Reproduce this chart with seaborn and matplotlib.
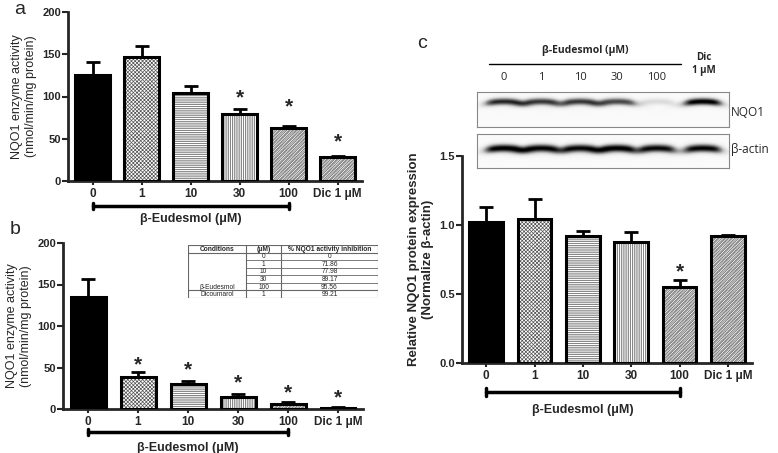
import numpy as np
import matplotlib
matplotlib.use('Agg')
import matplotlib.pyplot as plt
import seaborn as sns
from matplotlib.patches import Rectangle
from matplotlib.lines import Line2D
import matplotlib.transforms as mtransforms

sns.set_style('ticks')
plt.rcParams['font.family'] = ['Liberation Sans', 'DejaVu Sans']
plt.rcParams['hatch.linewidth'] = 0.5

# ---- data ----
doses = ['0', '1', '10', '30', '100', 'Dic 1 \u03bcM']

act_a_mean = [126, 147, 104, 79, 63, 28]
act_a_err = [15, 13, 9, 6, 2, 2]
star_a = [None, None, None, 98, 88, 46]

act_b_mean = [135, 38, 30, 15, 6, 1]
act_b_err = [22, 7, 4, 3, 3, 1]
star_b = [None, 53, 47, 31, 19, 13]

expr_c_mean = [1.02, 1.04, 0.92, 0.88, 0.55, 0.92]
expr_c_err = [0.11, 0.15, 0.04, 0.07, 0.05, 0.01]
star_c = [None, None, None, None, 0.66, None]

table_conc = ['0', '1', '10', '30', '100', '1']
table_inhib = ['0', '71.86', '77.98', '89.17', '95.56', '99.21']

lane_labels = ['0', '1', '10', '30', '100']
nqo1_band = [0.85, 0.80, 0.80, 0.75, 0.20, 1.0]
actin_band = [1.0, 0.97, 0.95, 1.0, 0.95, 0.97]

# ---- styling ----
hatches = ['', 'xxxxxxxxx', '---------', '|||||||||',
           'xxxxxxxxxx\\\\\\\\\\\\', 'xxxxxxxxxx\\\\\\\\\\\\']
faces = ['black', 'white', 'white', 'white', 'white', 'white']
hatch_cols = ['#555555', '#555555', '#555555', '#555555', '#8a8a8a', '#8a8a8a']

fig = plt.figure(figsize=(7.78, 4.53), dpi=100)

def px_axes(l, t, r, b):
    W, H = 778, 453
    return fig.add_axes([l / W, 1 - b / H, (r - l) / W, (b - t) / H])


def bar_panel(ax, means, errs, stars, ymax, yticks, ylabel, label_bold,
              bracket_y, label_y):
    sns.barplot(x=doses, y=means, ax=ax, width=0.7, color='white',
                edgecolor='#555555', linewidth=0, errorbar=None, zorder=2)
    for p, h, fc, hc in zip(ax.patches, hatches, faces, hatch_cols):
        p.set_hatch(h)
        p.set_facecolor(fc)
        p.set_edgecolor(hc)
        ax.add_patch(Rectangle(p.get_xy(), p.get_width(), p.get_height(),
                               fill=False, edgecolor='black', linewidth=2.2,
                               zorder=3))
    x = np.arange(len(means))
    ax.errorbar(x, means, yerr=[np.zeros(len(errs)), errs], fmt='none',
                ecolor='black', elinewidth=2, capsize=5, capthick=2, zorder=1)
    for xi, s in zip(x, stars):
        if s is not None:
            ax.text(xi, s, '*', ha='center', va='center', fontsize=15,
                    fontweight='bold')
    ax.set_xlim(-0.5, len(means) - 0.5)
    ax.set_ylim(0, ymax)
    ax.set_yticks(yticks)
    ax.spines['top'].set_visible(False)
    ax.spines['right'].set_visible(False)
    for sp in ['left', 'bottom']:
        ax.spines[sp].set_linewidth(2)
    ax.spines['left'].set_bounds(0, ymax)
    ax.tick_params(axis='y', length=4, width=1.5, labelsize=8, pad=1)
    ax.tick_params(axis='x', length=3, width=1.5, labelsize=8.5, pad=2)
    for t in ax.get_xticklabels() + ax.get_yticklabels():
        t.set_fontweight('bold')
    ax.set_ylabel(ylabel, fontsize=9, fontweight='bold' if label_bold else 'normal',
                  labelpad=4)
    ax.set_xlabel('')
    tr = mtransforms.blended_transform_factory(ax.transData, ax.transAxes)
    ax.add_line(Line2D([0, 4], [bracket_y, bracket_y], transform=tr, color='black',
                       linewidth=2.5, clip_on=False))
    for xe in [0, 4]:
        ax.add_line(Line2D([xe, xe], [bracket_y - 0.02, bracket_y + 0.02],
                           transform=tr, color='black', linewidth=2.5,
                           clip_on=False))
    ax.text(2, label_y, '\u03b2-Eudesmol (\u03bcM)', transform=tr, ha='center',
            va='center', fontsize=9, fontweight='bold')


# panel a
ax_a = px_axes(68, 12, 362, 181)
bar_panel(ax_a, act_a_mean, act_a_err, star_a, 200, [0, 50, 100, 150, 200],
          'NQO1 enzyme activity\n(nmol/min/mg protein)', False, -0.148, -0.222)
fig.text(20 / 778, 1 - 10 / 453, 'a', fontsize=14, ha='center', va='center')

# panel b
ax_b = px_axes(63, 243, 363, 409)
bar_panel(ax_b, act_b_mean, act_b_err, star_b, 200, [0, 50, 100, 150, 200],
          'NQO1 enzyme activity\n(nmol/min/mg protein)', False, -0.139, -0.232)
fig.text(15 / 778, 1 - 229 / 453, 'b', fontsize=14, ha='center', va='center')

# table inside b
tab = px_axes(188, 245, 378, 298)
tab.set_xlim(0, 190)
tab.set_ylim(7, 0)
tab.axis('off')
lc = '#666666'
tab.add_patch(Rectangle((0, 0), 190, 7, fill=False, edgecolor=lc, linewidth=0.8))
for xv in [58, 93]:
    tab.plot([xv, xv], [0, 7], color=lc, linewidth=0.8)
tab.plot([0, 190], [1, 1], color=lc, linewidth=0.8)
tab.plot([0, 190], [6, 6], color=lc, linewidth=0.8)
for yv in [2, 3, 4, 5]:
    tab.plot([58, 190], [yv, yv], color=lc, linewidth=0.6)
tfs = 4.8
tab.text(29, 0.55, 'Conditions', ha='center', va='center', fontsize=tfs, fontweight='bold')
tab.text(75.5, 0.55, '(\u03bcM)', ha='center', va='center', fontsize=tfs, fontweight='bold')
tab.text(141.5, 0.55, '% NQO1 activity inhibition', ha='center', va='center',
         fontsize=tfs, fontweight='bold')
for i, (c, v) in enumerate(zip(table_conc, table_inhib)):
    tab.text(75.5, i + 1.55, c, ha='center', va='center', fontsize=tfs)
    tab.text(141.5, i + 1.55, v, ha='center', va='center', fontsize=tfs)
tab.text(29, 5.55, '\u03b2-Eudesmol', ha='center', va='center', fontsize=tfs)
tab.text(29, 6.55, 'Dicoumarol', ha='center', va='center', fontsize=tfs)

# panel c bars
ax_c = px_axes(462, 156, 752, 363)
bar_panel(ax_c, expr_c_mean, expr_c_err, star_c, 1.5, [0.0, 0.5, 1.0, 1.5],
          'Relative NQO1 protein expression\n(Normalize \u03b2-actin)', True,
          -0.14, -0.227)
ax_c.set_yticklabels(['0.0', '0.5', '1.0', '1.5'])
for t in ax_c.get_yticklabels():
    t.set_fontweight('bold')
ax_c.yaxis.label.set_fontsize(9.5)
fig.text(422 / 778, 1 - 44 / 453, 'c', fontsize=14, ha='center', va='center')

# western blot
lane_x = [27, 64, 103, 140, 180, 226]
xs = np.linspace(0, 252, 504)


def blot(ax, levels, y0, sy, h):
    ys = np.linspace(0, h, 140)
    X, Y = np.meshgrid(xs, ys)
    img = np.full(X.shape, 0.04)
    for cx, lv in zip(lane_x, levels):
        prof = 1 / (1 + ((X - cx) / 18.5) ** 6)
        curve = 1.8 * (1 - ((X - cx) / 18.5) ** 2)
        img = img + lv * prof * np.exp(-((Y - y0 + curve) / sy) ** 2)
    img = np.clip(img, 0, 1)
    ax.imshow(img, cmap='Greys', vmin=0, vmax=1.0, aspect='auto',
              extent=[0, 252, h, 0], interpolation='bilinear')
    ax.set_xticks([])
    ax.set_yticks([])
    for sp in ax.spines.values():
        sp.set_edgecolor('#888888')
        sp.set_linewidth(0.8)


b1 = px_axes(477, 92, 729, 127)
blot(b1, nqo1_band, 12, 3.6, 35)
b2 = px_axes(477, 134, 729, 168)
blot(b2, actin_band, 16, 4.2, 34)

fig.text(731 / 778, 1 - 112 / 453, 'NQO1', fontsize=8.5, ha='left', va='center',
         family=['Open Sans', 'DejaVu Sans'])
fig.text(731 / 778, 1 - 150 / 453, '\u03b2-actin', fontsize=8.5, ha='left',
         va='center', family=['Open Sans', 'DejaVu Sans'])
fig.text(585 / 778, 1 - 50 / 453, '\u03b2-Eudesmol (\u03bcM)', fontsize=7.5,
         fontweight='bold', ha='center', va='center', family=['Open Sans', 'DejaVu Sans'])
fig.add_artist(Line2D([489 / 778, 681 / 778], [1 - 64 / 453, 1 - 64 / 453],
                      color='black', linewidth=1))
for lx, lab in zip(lane_x[:5], lane_labels):
    fig.text((477 + lx) / 778, 1 - 77 / 453, lab, fontsize=8, ha='center',
             va='center', family=['Open Sans', 'DejaVu Sans'])
fig.text(704 / 778, 1 - 64 / 453, 'Dic\n1 \u03bcM', fontsize=7, fontweight='bold',
         ha='center', va='center', linespacing=1.2, family=['Open Sans', 'DejaVu Sans'])

fig.savefig('out.png', dpi=100)
